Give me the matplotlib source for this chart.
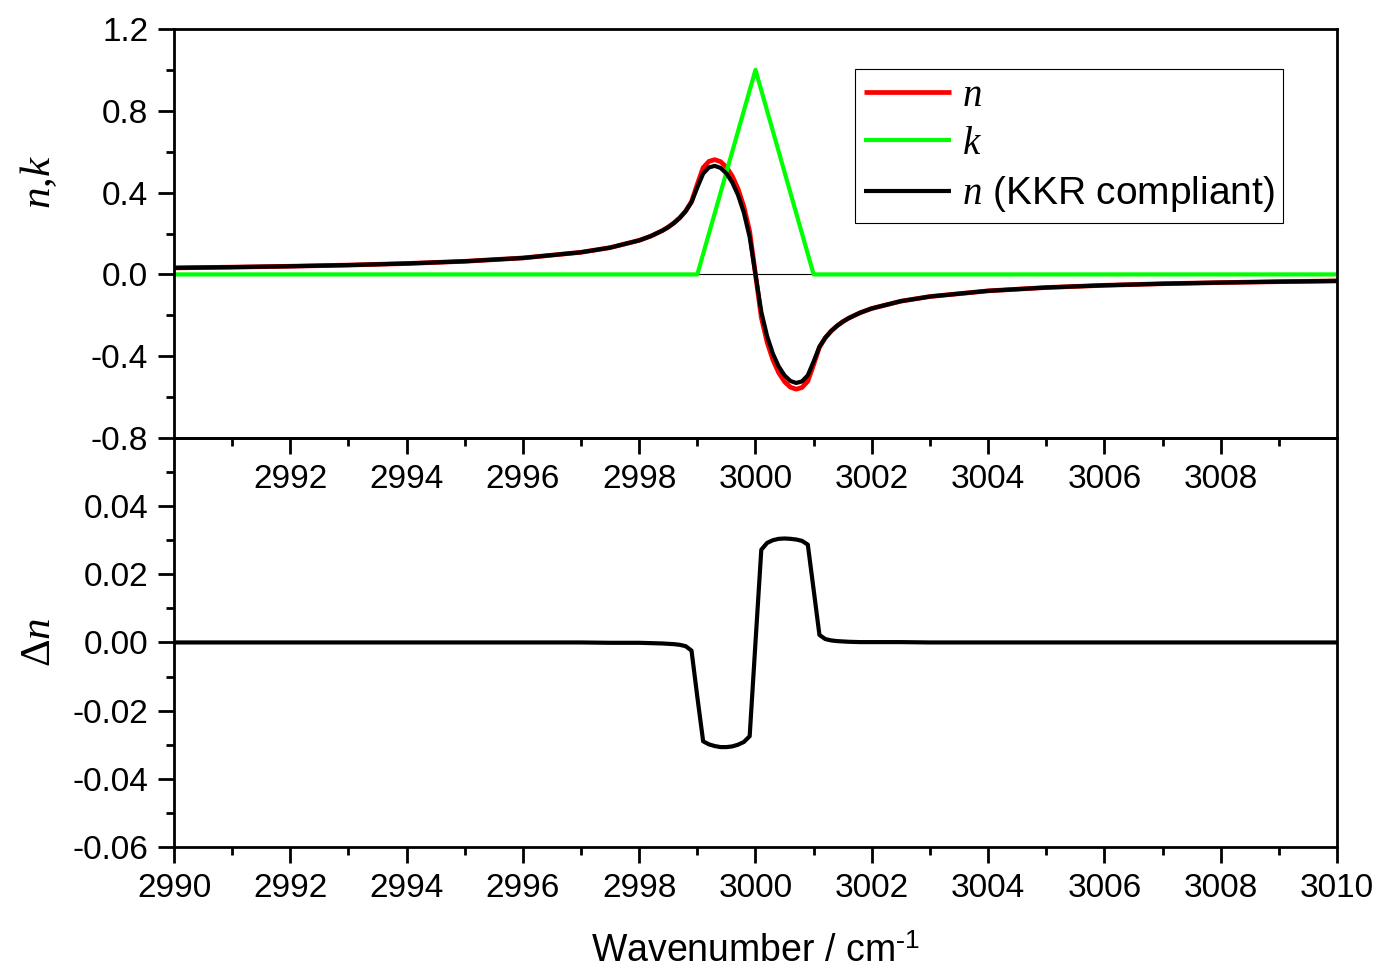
import matplotlib
matplotlib.use('Agg')
import matplotlib.pyplot as plt
from matplotlib.ticker import FixedLocator, FormatStrFormatter

plt.rcParams['font.family'] = ['Liberation Sans', 'DejaVu Sans']
plt.rcParams['mathtext.fontset'] = 'custom'
plt.rcParams['mathtext.it'] = 'Liberation Serif:italic'
plt.rcParams['mathtext.rm'] = 'Liberation Serif'
plt.rcParams['mathtext.sf'] = 'Liberation Sans'
plt.rcParams['axes.unicode_minus'] = False

# wavenumber grid (cm^-1), finer around the band centre
wavenumber = [2990, 2991, 2992, 2993, 2994, 2995, 2996, 2997, 2997.5, 2998,
              2998.2, 2998.4, 2998.5, 2998.6, 2998.7, 2998.8, 2998.9, 2999.0,
              2999.1, 2999.2, 2999.3, 2999.4, 2999.5, 2999.6, 2999.7, 2999.8,
              2999.9, 3000.0, 3000.1, 3000.2, 3000.3, 3000.4, 3000.5, 3000.6,
              3000.7, 3000.8, 3000.9, 3001.0, 3001.1, 3001.2, 3001.3, 3001.4,
              3001.5, 3001.6, 3001.8, 3002, 3002.5, 3003, 3004, 3005, 3006,
              3007, 3008, 3009, 3010]

# refractive index (analytic)
n_values = [0.0319, 0.0355, 0.0399, 0.0456, 0.0533, 0.0641, 0.0804, 0.1082,
            0.1310, 0.1665, 0.1873, 0.2145, 0.2316, 0.2523, 0.2777, 0.3104,
            0.3559, 0.4413, 0.5219, 0.5529, 0.5611, 0.5512, 0.5245, 0.4808,
            0.4180, 0.3314, 0.2101, 0.0,
            -0.2101, -0.3314, -0.4180, -0.4808, -0.5245, -0.5512, -0.5611,
            -0.5529, -0.5219, -0.4413, -0.3559, -0.3104, -0.2777, -0.2523,
            -0.2316, -0.2145, -0.1873, -0.1665, -0.1310, -0.1082, -0.0804,
            -0.0641, -0.0533, -0.0456, -0.0399, -0.0355, -0.0319]

# difference between KKR compliant n and analytic n
delta_n = [0, 0, 0, 0, 0, 0, 0, 0, -0.0001, -0.0001, -0.0002, -0.0003,
           -0.0004, -0.0005, -0.0007, -0.0011, -0.0024, -0.0160, -0.0290,
           -0.0299, -0.0304, -0.0307, -0.0307, -0.0305, -0.0300, -0.0292,
           -0.0275, 0.0,
           0.0272, 0.0292, 0.0300, 0.0304, 0.0305, 0.0304, 0.0302, 0.0298,
           0.0287, 0.0155, 0.0022, 0.0010, 0.0006, 0.0004, 0.0003, 0.0002,
           0.0001, 0.0001, 0.0001, 0, 0, 0, 0, 0, 0, 0, 0]

n_kkr = [a + b for a, b in zip(n_values, delta_n)]

# triangular absorption band
k_wavenumber = [2990, 2999, 3000, 3001, 3010]
k_values = [0, 0, 1, 0, 0]

fig = plt.figure(figsize=(13.8, 9.76), dpi=100)
ax2 = fig.add_axes([0.1261, 0.1322, 0.8427, 0.4191])
ax1 = fig.add_axes([0.1261, 0.5512, 0.8427, 0.4191])
ax2.set_facecolor('none')
ax1.set_facecolor('none')

line_kw = dict(solid_joinstyle='round', solid_capstyle='butt')
ax1.axhline(0, color='black', lw=0.8, zorder=1)
ax1.plot(wavenumber, n_values, color='#ff0000', lw=3.4, label=r'$n$', **line_kw)
ax1.plot(k_wavenumber, k_values, color='#00ff00', lw=3.0, label=r'$k$', **line_kw)
ax1.plot(wavenumber, n_kkr, color='black', lw=3.0,
         label=r'$n$ (KKR compliant)', **line_kw)

ax2.plot(wavenumber, delta_n, color='black', lw=3.0, **line_kw)

for ax in (ax1, ax2):
    ax.set_xlim(2990, 3010)
    for s in ax.spines.values():
        s.set_linewidth(2)
    ax.tick_params(which='both', direction='out', width=2, labelsize=24,
                   top=False, right=False)
    ax.tick_params(which='major', length=11.5, pad=7)
    ax.tick_params(which='minor', length=5.8)

ax1.set_ylim(-0.8, 1.2)
ax1.yaxis.set_major_locator(FixedLocator([-0.8, -0.4, 0.0, 0.4, 0.8, 1.2]))
ax1.yaxis.set_minor_locator(FixedLocator([-0.6, -0.2, 0.2, 0.6, 1.0]))
ax1.yaxis.set_major_formatter(FormatStrFormatter('%.1f'))
ax1.xaxis.set_major_locator(FixedLocator(list(range(2992, 3009, 2))))
ax1.xaxis.set_minor_locator(FixedLocator(list(range(2991, 3010, 2))))

ax2.set_ylim(-0.06, 0.06)
ax2.yaxis.set_major_locator(FixedLocator([-0.06, -0.04, -0.02, 0.0, 0.02, 0.04]))
ax2.yaxis.set_minor_locator(FixedLocator([-0.05, -0.03, -0.01, 0.01, 0.03, 0.05]))
ax2.yaxis.set_major_formatter(FormatStrFormatter('%.2f'))
ax2.xaxis.set_major_locator(FixedLocator(list(range(2990, 3011, 2))))
ax2.xaxis.set_minor_locator(FixedLocator(list(range(2991, 3010, 2))))

ax1.set_ylabel(r'$n{,}k$', fontsize=31)
ax1.yaxis.set_label_coords(-0.099, 0.626)
ax2.set_ylabel(r'$\mathit{\Delta n}$', fontsize=31)
ax2.yaxis.set_label_coords(-0.099, 0.5)
ax2.set_xlabel(r'Wavenumber / cm$^{\text{-}\mathsf{1}}$', fontsize=27,
               labelpad=22)

leg = ax1.legend(loc='upper right', bbox_to_anchor=(0.9536, 0.9022),
                 fontsize=28, frameon=True, fancybox=False, framealpha=1,
                 edgecolor='black', handlelength=2.25, handletextpad=0.27,
                 borderpad=0.22, labelspacing=0.32, borderaxespad=0)
leg.get_frame().set_linewidth(0.8)

fig.savefig('out.png', dpi=100)
